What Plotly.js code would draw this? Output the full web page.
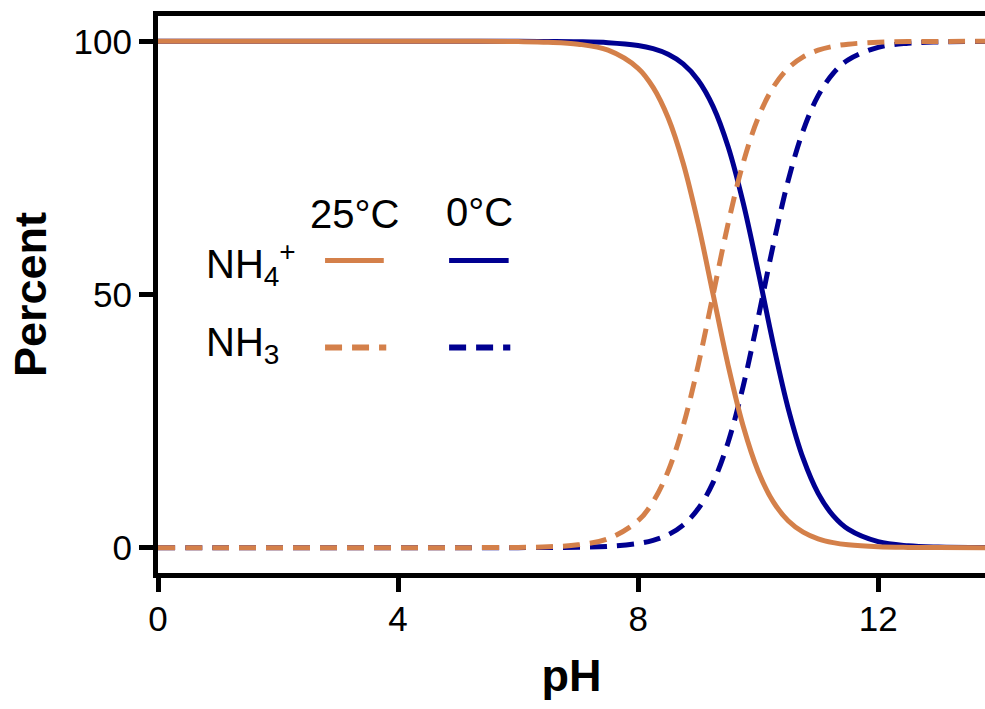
<!DOCTYPE html>
<html>
<head>
<meta charset="utf-8">
<script src="https://cdn.plot.ly/plotly-3.0.1.min.js"></script>
<style>html,body{margin:0;padding:0;background:#fff;}#chart{width:985px;height:709px;}</style>
</head>
<body>
<div id="chart"></div>
<script>
// pH sample points
const pH = [0,1,2,3,4,5,6,6.5,7,7.5,8,8.25,8.5,8.75,9,9.25,9.5,9.75,10,10.25,10.5,10.75,11,11.25,11.5,12,12.5,13,14];
// Percent NH4+ at 25 °C
const nh4_25 = [100,100,100,100,100,100,99.94,99.82,99.44,98.25,94.68,90.91,84.90,75.97,64.01,50.0,35.99,24.03,15.10,9.09,5.32,3.07,1.75,0.99,0.56,0.18,0.06,0.02,0.0];
// Percent NH3 at 25 °C
const nh3_25 = [0,0,0,0,0,0,0.06,0.18,0.56,1.75,5.32,9.09,15.10,24.03,35.99,50.0,64.01,75.97,84.90,90.91,94.68,96.93,98.25,99.01,99.44,99.82,99.94,99.98,100];
// Percent NH4+ at 0 °C
const nh4_0 = [100,100,100,100,100,100,99.99,99.97,99.92,99.74,99.17,98.54,97.44,95.53,92.32,87.11,79.17,68.13,54.60,40.33,27.53,17.62,10.73,6.33,3.66,1.19,0.38,0.12,0.01];
// Percent NH3 at 0 °C
const nh3_0 = [0,0,0,0,0,0,0.01,0.03,0.08,0.26,0.83,1.46,2.56,4.47,7.68,12.89,20.83,31.87,45.40,59.67,72.47,82.38,89.27,93.67,96.34,98.81,99.62,99.88,99.99];

const xTicks = [0,4,8,12];
const yTicks = [0,50,100];

const ORANGE = '#D4804A';
const BLUE = '#000091';
const FONT = 'Liberation Sans, Arial, Helvetica, sans-serif';
const DASH = '17px,10px';

const traces = [
  {x: pH, y: nh4_0, mode: 'lines', line: {color: BLUE, width: 5, shape: 'spline'}, hoverinfo: 'skip'},
  {x: pH, y: nh3_0, mode: 'lines', line: {color: BLUE, width: 5, dash: DASH, shape: 'spline'}, hoverinfo: 'skip'},
  {x: pH, y: nh4_25, mode: 'lines', line: {color: ORANGE, width: 5, shape: 'spline'}, hoverinfo: 'skip'},
  {x: pH, y: nh3_25, mode: 'lines', line: {color: ORANGE, width: 5, dash: DASH, shape: 'spline'}, hoverinfo: 'skip'}
];

const legY1 = 0.561, legY2 = 0.405;
const layout = {
  width: 985, height: 709,
  margin: {l: 158, r: 0, t: 16, b: 136},
  paper_bgcolor: '#fff', plot_bgcolor: '#fff',
  showlegend: false,
  font: {family: FONT, color: '#000'},
  xaxis: {
    range: [0, 13.78], tickvals: xTicks, ticktext: xTicks.map(String),
    showgrid: false, zeroline: false, showline: true, linecolor: '#000', linewidth: 5,
    mirror: true, ticks: 'outside', ticklen: 14, tickwidth: 5, tickcolor: '#000',
    ticklabelstandoff: -3,
    tickfont: {family: FONT, size: 35, color: '#000'},
    title: {text: '<b>pH</b>', font: {family: FONT, size: 45, color: '#000'}, standoff: 24}
  },
  yaxis: {
    range: [-5, 105], tickvals: yTicks, ticktext: yTicks.map(String),
    showgrid: false, zeroline: false, showline: true, linecolor: '#000', linewidth: 5,
    ticks: 'outside', ticklen: 14, tickwidth: 5, tickcolor: '#000',
    tickfont: {family: FONT, size: 35, color: '#000'},
    title: {text: '<b>Percent</b>', font: {family: FONT, size: 45, color: '#000'}, standoff: 14}
  },
  shapes: [
    {type: 'line', xref: 'paper', yref: 'paper', x0: 0.202, x1: 0.273, y0: legY1, y1: legY1, line: {color: ORANGE, width: 5}},
    {type: 'line', xref: 'paper', yref: 'paper', x0: 0.352, x1: 0.424, y0: legY1, y1: legY1, line: {color: BLUE, width: 5}},
    {type: 'line', xref: 'paper', yref: 'paper', x0: 0.202, x1: 0.276, y0: legY2, y1: legY2, line: {color: ORANGE, width: 6, dash: DASH}},
    {type: 'line', xref: 'paper', yref: 'paper', x0: 0.352, x1: 0.426, y0: legY2, y1: legY2, line: {color: BLUE, width: 6, dash: DASH}}
  ],
  annotations: [
    {xref: 'paper', yref: 'paper', x: 0.238, y: 0.644, text: '25°C', showarrow: false, xanchor: 'center', yanchor: 'middle', font: {family: FONT, size: 40, color: '#000'}},
    {xref: 'paper', yref: 'paper', x: 0.389, y: 0.648, text: '0°C', showarrow: false, xanchor: 'center', yanchor: 'middle', font: {family: FONT, size: 40, color: '#000'}},
    {xref: 'paper', yref: 'paper', x: 0.056, y: 0.555, text: 'NH<sub>4</sub><sup>+</sup>', showarrow: false, xanchor: 'left', yanchor: 'middle', font: {family: FONT, size: 40, color: '#000'}},
    {xref: 'paper', yref: 'paper', x: 0.056, y: 0.410, text: 'NH<sub>3</sub>', showarrow: false, xanchor: 'left', yanchor: 'middle', font: {family: FONT, size: 40, color: '#000'}}
  ]
};

Plotly.newPlot('chart', traces, layout, {displayModeBar: false, staticPlot: true});
</script>
</body>
</html>
